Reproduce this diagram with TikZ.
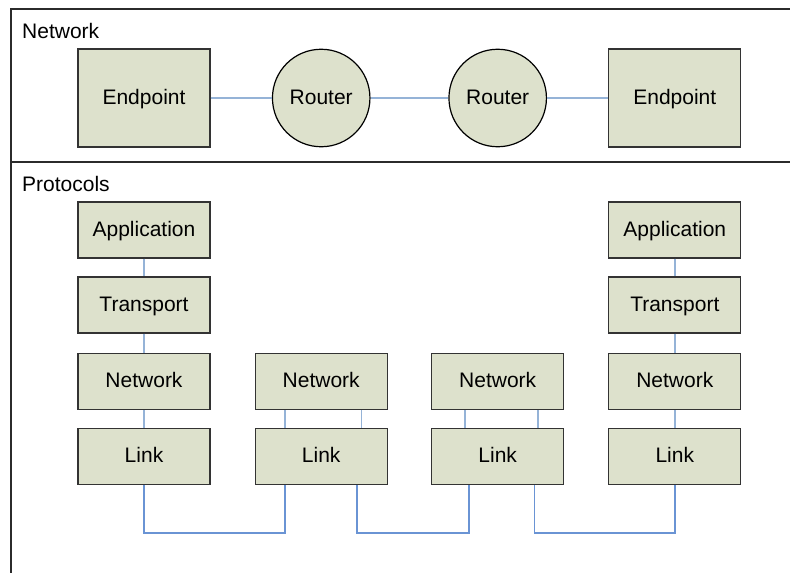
\documentclass[tikz,border=0pt]{standalone}
\usepackage{fontspec}
\setmainfont{Liberation Sans}
\usetikzlibrary{calc}
\definecolor{boxfill}{HTML}{DDE1CC}
\definecolor{boxline}{HTML}{333333}
\definecolor{wire}{HTML}{95B3D7}
\definecolor{buswire}{HTML}{6A94D4}
\definecolor{frame}{HTML}{2B2B2B}
\newcommand{\lblfont}{\fontsize{21}{24}\selectfont}
\tikzset{
  shapebase/.style={draw=boxline, fill=boxfill, line width=1.2pt, inner sep=0pt,
    text height=12pt, text depth=0pt, font=\lblfont},
  endbox/.style={shapebase, rectangle, minimum width=132pt, minimum height=98pt},
  routerdisc/.style={shapebase, circle, draw=black, minimum size=97.5pt},
  layerbox/.style={shapebase, rectangle, minimum width=132pt, minimum height=56pt},
  wireline/.style={draw=wire, line width=1.4pt},
  busline/.style={draw=buswire, line width=1.4pt},
  framerule/.style={draw=frame, line width=1.3pt},
  paneltitle/.style={anchor=base west, inner sep=0pt, font=\lblfont},
}
\begin{document}
\begin{tikzpicture}[x=1pt, y=-1pt]
  \useasboundingbox (0,0) rectangle (790,573);

  % panel frame and divider
  \coordinate (ftl) at (11,9);
  \coordinate (ftr) at (790,9);
  \coordinate (fbl) at (11,573);
  \coordinate (dl) at (11,162);
  \coordinate (dr) at (790,162);
  \draw[framerule] (ftr) -- (ftl) -- (fbl);
  \draw[framerule] (dl) -- (dr);

  \node[paneltitle] (tnet) at (22,38.5) {Network};
  \node[paneltitle] (tproto) at (22,191.5) {Protocols};

  % network view
  \node[endbox] (ep1) at (144,98) {Endpoint};
  \node[routerdisc] (r1) at (321.2,98) {Router};
  \node[routerdisc] (r2) at (497.7,98) {Router};
  \node[endbox] (ep2) at (674.8,98) {Endpoint};
  \draw[wireline] (ep1) -- (r1);
  \draw[wireline] (r1) -- (r2);
  \draw[wireline] (r2) -- (ep2);

  % protocol stacks
  \node[layerbox] (app1) at (144,230) {Application};
  \node[layerbox] (tr1)  at (144,305) {Transport};
  \node[layerbox] (net1) at (144,381.5) {Network};
  \node[layerbox] (lnk1) at (144,456.2) {Link};

  \node[layerbox] (net2) at (321.2,381.5) {Network};
  \node[layerbox] (lnk2) at (321.2,456.2) {Link};

  \node[layerbox] (net3) at (497.7,381.5) {Network};
  \node[layerbox] (lnk3) at (497.7,456.2) {Link};

  \node[layerbox] (app4) at (674.8,230) {Application};
  \node[layerbox] (tr4)  at (674.8,305) {Transport};
  \node[layerbox] (net4) at (674.8,381.5) {Network};
  \node[layerbox] (lnk4) at (674.8,456.2) {Link};

  % links inside each stack
  \draw[wireline] (app1) -- (tr1);
  \draw[wireline] (tr1) -- (net1);
  \draw[wireline] (net1) -- (lnk1);
  \draw[wireline] ([xshift=-36.2pt]net2.south) -- ([xshift=-36.2pt]lnk2.north);
  \draw[wireline] ([xshift=40.5pt]net2.south) -- ([xshift=40.5pt]lnk2.north);
  \draw[wireline] ([xshift=-32.7pt]net3.south) -- ([xshift=-32.7pt]lnk3.north);
  \draw[wireline] ([xshift=40.3pt]net3.south) -- ([xshift=40.3pt]lnk3.north);
  \draw[wireline] (app4) -- (tr4);
  \draw[wireline] (tr4) -- (net4);
  \draw[wireline] (net4) -- (lnk4);

  % physical links between hops
  \draw[busline] (lnk1.south) -- ++(0,48) -| ([xshift=-36.2pt]lnk2.south);
  \draw[busline] ([xshift=35.8pt]lnk2.south) -- ++(0,48) -| ([xshift=-28.7pt]lnk3.south);
  \draw[busline] ([xshift=36.6pt]lnk3.south) -- ++(0,48) -| (lnk4.south);
\end{tikzpicture}
\end{document}
